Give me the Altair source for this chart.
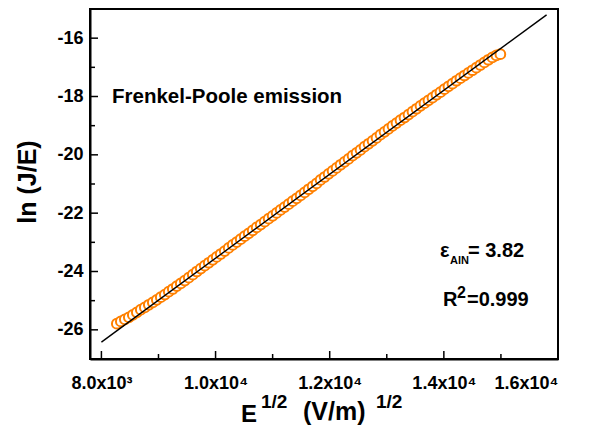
import altair as alt
import pandas as pd

# ---- data ----
e_sqrt = [8270, 8340, 8410, 8480, 8550, 8620, 8690, 8760, 8830, 8900,
          8970, 9040, 9110, 9180, 9250, 9320, 9390, 9460, 9530, 9600,
          9670, 9740, 9810, 9880, 9950, 10020, 10090, 10160, 10230, 10300,
          10370, 10440, 10510, 10580, 10650, 10720, 10790, 10860, 10930, 11000,
          11070, 11140, 11210, 11280, 11350, 11420, 11490, 11560, 11630, 11700,
          11770, 11840, 11910, 11980, 12050, 12120, 12190, 12260, 12330, 12400,
          12470, 12540, 12610, 12680, 12750, 12820, 12890, 12960, 13030, 13100,
          13170, 13240, 13310, 13380, 13450, 13520, 13590, 13660, 13730, 13800,
          13870, 13940, 14010, 14080, 14150, 14220, 14290, 14360, 14430, 14500,
          14570, 14640, 14710, 14780, 14850, 14920, 14990]
ln_je = [-25.79, -25.71, -25.64, -25.57, -25.49, -25.40, -25.31, -25.23, -25.14, -25.06,
         -24.97, -24.88, -24.79, -24.69, -24.60, -24.50, -24.41, -24.31, -24.21, -24.11,
         -24.00, -23.90, -23.80, -23.70, -23.60, -23.50, -23.40, -23.30, -23.19, -23.09,
         -22.99, -22.89, -22.79, -22.69, -22.59, -22.49, -22.39, -22.29, -22.19, -22.09,
         -21.99, -21.89, -21.79, -21.69, -21.59, -21.49, -21.39, -21.29, -21.18, -21.08,
         -20.98, -20.86, -20.76, -20.65, -20.55, -20.45, -20.34, -20.24, -20.14, -20.03,
         -19.93, -19.83, -19.72, -19.62, -19.52, -19.42, -19.31, -19.21, -19.11, -19.01,
         -18.91, -18.81, -18.72, -18.62, -18.52, -18.42, -18.32, -18.23, -18.13, -18.04,
         -17.94, -17.85, -17.75, -17.65, -17.56, -17.46, -17.37, -17.28, -17.19, -17.10,
         -17.01, -16.92, -16.83, -16.74, -16.66, -16.59, -16.55]

fit_x = [8000, 15800]
fit_y = [-26.42, -15.20]

x_domain = [7800, 16000]
y_domain = [-27, -15]
x_major = [8000, 10000, 12000, 14000, 16000]
x_minor = [9000, 11000, 13000, 15000]
y_major = [-26, -24, -22, -20, -18, -16]
y_minor = [-25, -23, -21, -19, -17]

label_title = ["Frenkel-Poole emission"]
eps_main = ["\u03b5"]
eps_sub = ["AlN"]
eps_val = ["= 3.82"]
r_main = ["R"]
r_sup = ["2"]
r_val = ["=0.999"]
y_title = ["ln (J/E)"]
x_title_main = ["E"]
x_title_sup = ["1/2"]
x_title_unit = ["(V/m)"]

W, H = 468, 350
FONT = "Liberation Sans"
ORANGE = "#FF8000"

xscale = alt.Scale(domain=x_domain, nice=False, zero=False)
yscale = alt.Scale(domain=y_domain, nice=False, zero=False)

xaxis = alt.Axis(values=x_major, ticks=False, tickSize=0, domain=True, domainColor="black",
                 domainWidth=2, grid=False,
                 labelFont=FONT, labelFontSize=18, labelFontWeight="bold", labelColor="black",
                 labelPadding=15, title=None,
                 labelExpr="datum.value == 8000 ? '8.0x10\u00b3' : format(datum.value/10000, '.1f') + 'x10\u2074'")
yaxis = alt.Axis(values=y_major, ticks=False, tickSize=0, domain=True, domainColor="black",
                 domainWidth=2, grid=False,
                 labelFont=FONT, labelFontSize=18, labelFontWeight="bold", labelColor="black",
                 labelPadding=7, title=None, labelExpr="'' + datum.value")

X = lambda f: alt.X(f + ":Q", scale=xscale, axis=xaxis)
Y = lambda f: alt.Y(f + ":Q", scale=yscale, axis=yaxis)

pts = pd.DataFrame({"x": e_sqrt, "y": ln_je})
fit = pd.DataFrame({"x": fit_x, "y": fit_y})

points = alt.Chart(pts).mark_point(shape="circle", filled=False, fill="white", fillOpacity=1,
                                    stroke=ORANGE, strokeWidth=2, size=95, opacity=1).encode(
    x=X("x"), y=Y("y"))

line = alt.Chart(fit).mark_line(color="black", strokeWidth=1.4).encode(x=X("x"), y=Y("y"))

# frame: rules along the plot edges, placed through the scales at the domain ends
frame_df = pd.DataFrame({
    "x": [x_domain[0], x_domain[0], x_domain[0], x_domain[1]],
    "x2": [x_domain[1], x_domain[1], x_domain[0], x_domain[1]],
    "y": [y_domain[1], y_domain[0], y_domain[0], y_domain[0]],
    "y2": [y_domain[1], y_domain[0], y_domain[1], y_domain[1]],
})
frame = alt.Chart(frame_df).mark_rule(color="black", strokeWidth=2, strokeCap="square").encode(
    x=X("x"), x2="x2:Q", y=Y("y"), y2="y2:Q")

def xticks(vals, length):
    return alt.Chart(pd.DataFrame({"x": vals})).mark_rule(color="black", strokeWidth=1.5).encode(
        x=X("x"), y=alt.value(H), y2=alt.value(H - length))

def yticks(vals, length):
    return alt.Chart(pd.DataFrame({"y": vals})).mark_rule(color="black", strokeWidth=1.5).encode(
        y=Y("y"), x=alt.value(0), x2=alt.value(length))

def txt(vals, x, y, size, align="left", baseline="alphabetic", angle=0):
    kw = dict(font=FONT, fontSize=size, fontWeight="bold", color="black",
              align=align, baseline=baseline)
    if angle:
        kw["angle"] = angle
    return alt.Chart(pd.DataFrame({"t": vals})).mark_text(**kw).encode(
        text="t:N", x=alt.value(x), y=alt.value(y))

chart = alt.layer(
    points,
    line,
    frame,
    xticks(x_major, 8), xticks(x_minor, 5),
    yticks(y_major, 8), yticks(y_minor, 5),
    txt(label_title, 22, 94, 20.5),
    txt(eps_main, 350, 248, 20),
    txt(eps_sub, 360, 255, 11),
    txt(eps_val, 378, 248, 20),
    txt(r_main, 353, 297, 20),
    txt(r_sup, 367, 289, 16),
    txt(r_val, 377, 297, 20),
    txt(y_title, -62, 173, 25, align="center", baseline="middle", angle=270),
    txt(x_title_main, 151, 413, 24),
    txt(x_title_sup, 171, 399, 19),
    txt(x_title_unit, 213, 411, 25),
    txt(x_title_sup, 286, 399, 19),
).properties(
    width=W, height=H, background="white",
    autosize=alt.AutoSizeParams(type="none"),
    padding={"left": 82, "top": 1, "right": 30, "bottom": 69},
).configure_view(stroke="black", strokeWidth=2)

chart.save("out.html", embed_options={"renderer": "svg", "actions": False})
